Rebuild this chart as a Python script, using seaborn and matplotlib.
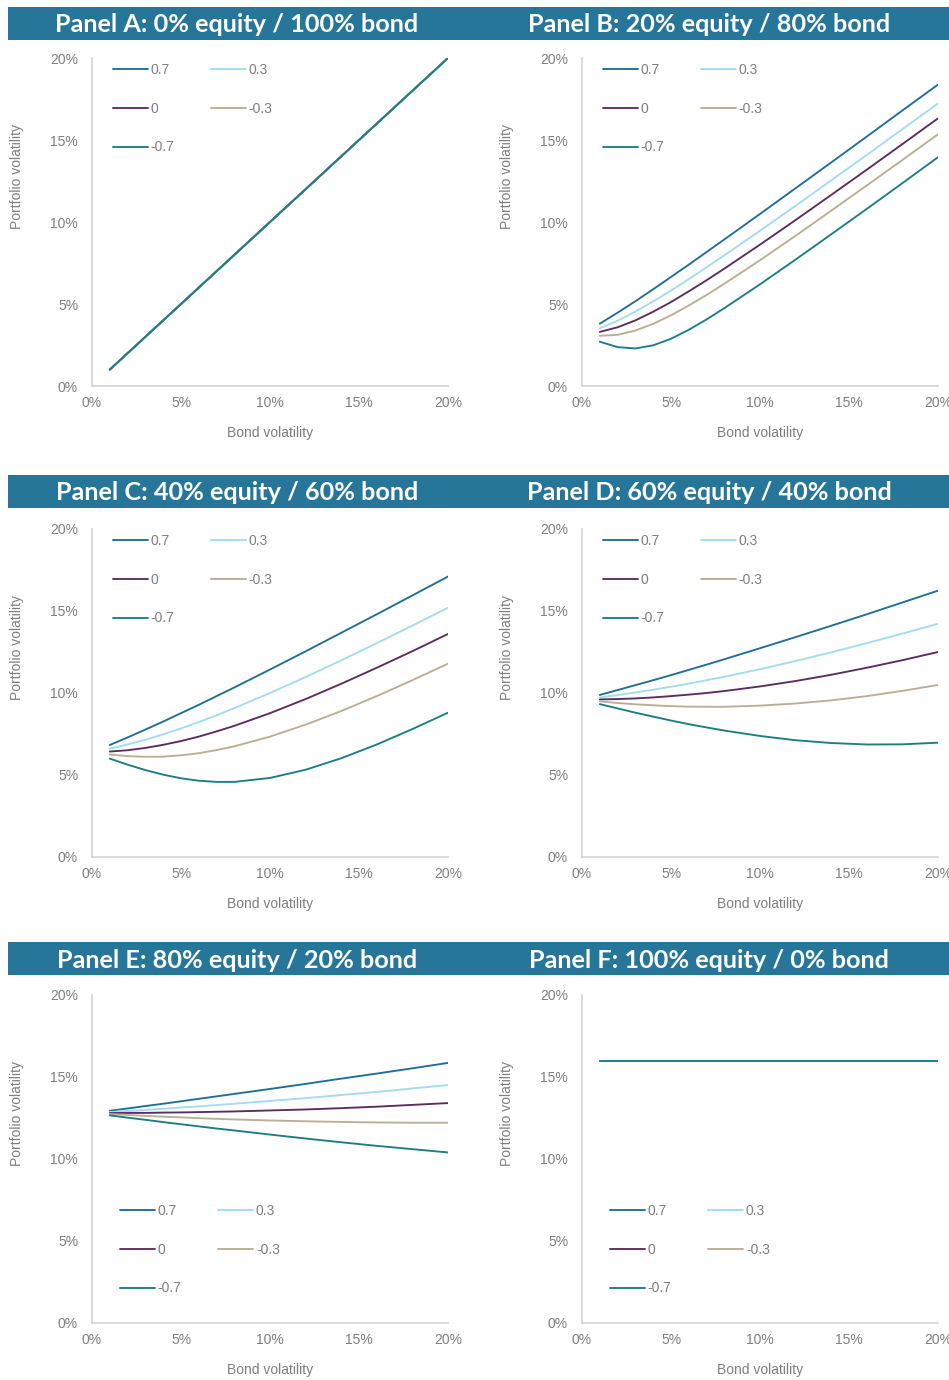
import matplotlib
matplotlib.use("Agg")
import matplotlib.pyplot as plt
from matplotlib.patches import Rectangle
from matplotlib.ticker import FuncFormatter, MultipleLocator
import seaborn as sns
import pandas as pd

# ---------------- data ----------------
bond_vol = [1, 2, 3, 4, 5, 6, 7, 8, 10, 12, 14, 16, 18, 20]
correlations = ["0.7", "0.3", "0", "-0.3", "-0.7"]

panel_titles = [
    "Panel A: 0% equity / 100% bond",
    "Panel B: 20% equity / 80% bond",
    "Panel C: 40% equity / 60% bond",
    "Panel D: 60% equity / 40% bond",
    "Panel E: 80% equity / 20% bond",
    "Panel F: 100% equity / 0% bond",
]

# Panel A: all correlations coincide
a_vol = [1, 2, 3, 4, 5, 6, 7, 8, 10, 12, 14, 16, 18, 20]

b_p07 = [3.80, 4.47, 5.17, 5.90, 6.65, 7.40, 8.17, 8.94, 10.49, 12.06, 13.63, 15.21, 16.80, 18.38]
b_p03 = [3.52, 3.98, 4.54, 5.16, 5.82, 6.52, 7.24, 7.97, 9.47, 10.99, 12.54, 14.09, 15.66, 17.23]
b_p00 = [3.30, 3.58, 4.00, 4.53, 5.12, 5.77, 6.45, 7.16, 8.62, 10.12, 11.65, 13.19, 14.75, 16.32]
b_m03 = [3.06, 3.12, 3.38, 3.79, 4.31, 4.91, 5.55, 6.24, 7.67, 9.16, 10.69, 12.23, 13.78, 15.35]
b_m07 = [2.70, 2.37, 2.29, 2.48, 2.88, 3.43, 4.06, 4.75, 6.20, 7.71, 9.25, 10.80, 12.37, 13.95]

c_p07 = [6.83, 7.29, 7.77, 8.26, 8.77, 9.28, 9.81, 10.34, 11.43, 12.54, 13.67, 14.80, 15.95, 17.10]
c_p03 = [6.60, 6.86, 7.15, 7.48, 7.84, 8.23, 8.64, 9.08, 10.00, 10.97, 11.99, 13.04, 14.11, 15.20]
c_p00 = [6.43, 6.51, 6.65, 6.84, 7.07, 7.34, 7.66, 8.00, 8.77, 9.63, 10.56, 11.54, 12.55, 13.60]
c_m03 = [6.25, 6.15, 6.11, 6.12, 6.20, 6.33, 6.52, 6.75, 7.34, 8.07, 8.90, 9.81, 10.78, 11.79]
c_m07 = [6.00, 5.63, 5.30, 5.02, 4.80, 4.65, 4.58, 4.58, 4.82, 5.32, 6.02, 6.86, 7.80, 8.80]

d_p07 = [9.88, 10.18, 10.48, 10.78, 11.09, 11.41, 11.73, 12.06, 12.73, 13.41, 14.10, 14.80, 15.52, 16.24]
d_p03 = [9.73, 9.87, 10.03, 10.20, 10.38, 10.57, 10.78, 10.99, 11.45, 11.95, 12.48, 13.04, 13.62, 14.22]
d_p00 = [9.61, 9.63, 9.67, 9.73, 9.81, 9.90, 10.00, 10.12, 10.40, 10.73, 11.11, 11.54, 12.00, 12.50]
d_m03 = [9.49, 9.39, 9.31, 9.25, 9.20, 9.17, 9.16, 9.16, 9.23, 9.36, 9.55, 9.81, 10.13, 10.49]
d_m07 = [9.32, 9.06, 8.80, 8.56, 8.32, 8.10, 7.90, 7.71, 7.38, 7.12, 6.95, 6.86, 6.87, 6.97]

e_p07 = [12.94, 13.08, 13.23, 13.37, 13.52, 13.67, 13.82, 13.97, 14.27, 14.58, 14.90, 15.21, 15.53, 15.86]
e_p03 = [12.86, 12.93, 12.99, 13.06, 13.14, 13.21, 13.29, 13.37, 13.54, 13.71, 13.90, 14.09, 14.30, 14.51]
e_p00 = [12.80, 12.81, 12.81, 12.83, 12.84, 12.86, 12.88, 12.90, 12.96, 13.02, 13.10, 13.19, 13.30, 13.41]
e_m03 = [12.74, 12.69, 12.63, 12.58, 12.54, 12.49, 12.45, 12.41, 12.35, 12.30, 12.26, 12.23, 12.21, 12.21]
e_m07 = [12.66, 12.52, 12.39, 12.25, 12.12, 11.99, 11.86, 11.74, 11.49, 11.25, 11.02, 10.80, 10.60, 10.40]

# Panel F: all correlations coincide (equity volatility)
f_vol = [16, 16, 16, 16, 16, 16, 16, 16, 16, 16, 16, 16, 16, 16]

panel_series = [
    [a_vol, a_vol, a_vol, a_vol, a_vol],
    [b_p07, b_p03, b_p00, b_m03, b_m07],
    [c_p07, c_p03, c_p00, c_m03, c_m07],
    [d_p07, d_p03, d_p00, d_m03, d_m07],
    [e_p07, e_p03, e_p00, e_m03, e_m07],
    [f_vol, f_vol, f_vol, f_vol, f_vol],
]

colors = {
    "0.7": "#1f6e96",
    "0.3": "#a3dbef",
    "0": "#5c2c5e",
    "-0.3": "#b8af94",
    "-0.7": "#1a7e84",
}

# ---------------- styling ----------------
sns.set_theme(style="white")
plt.rcParams["font.family"] = ["Liberation Sans", "DejaVu Sans"]

W, H = 949, 1380
fig = plt.figure(figsize=(W / 100, H / 100), dpi=100)

GRAY = "#7f7f7f"
SPINE = "#d4d4d4"
BANNER = "#26769a"
LW = 1.35

col_x0 = [92, 582]
row_zero = [386, 857, 1323]
row_banner = [(7, 40), (475, 508), (942, 975)]
ax_w, ax_h = 356, 328

for i, title in enumerate(panel_titles):
    r, c = divmod(i, 2)
    x0 = col_x0[c]
    y0 = row_zero[r]
    ax = fig.add_axes([x0 / W, (H - y0) / H, ax_w / W, ax_h / H])

    rows = []
    for corr, vals in zip(correlations, panel_series[i]):
        for xv, yv in zip(bond_vol, vals):
            rows.append({"bond": xv, "port": yv, "corr": corr})
    df = pd.DataFrame(rows)
    sns.lineplot(data=df, x="bond", y="port", hue="corr", hue_order=correlations,
                 palette=colors, estimator=None, sort=False, lw=LW, ax=ax,
                 legend=False)

    ax.set_xlim(0, 20)
    ax.set_ylim(0, 20)
    ax.xaxis.set_major_locator(MultipleLocator(5))
    ax.yaxis.set_major_locator(MultipleLocator(5))
    pct = FuncFormatter(lambda v, p: f"{v:.0f}%")
    ax.xaxis.set_major_formatter(pct)
    ax.yaxis.set_major_formatter(pct)
    ax.tick_params(axis="both", length=0, labelsize=10, labelcolor=GRAY)
    ax.tick_params(axis="x", pad=7)
    ax.tick_params(axis="y", pad=10)
    for s in ["top", "right"]:
        ax.spines[s].set_visible(False)
    for s in ["left", "bottom"]:
        ax.spines[s].set_color(SPINE)
        ax.spines[s].set_linewidth(1.2)
    ax.grid(False)

    ax.set_xlabel("Bond volatility", fontsize=10, color=GRAY)
    ax.set_ylabel("Portfolio volatility", fontsize=10, color=GRAY)
    ax.xaxis.set_label_coords(0.5, -0.143)
    ax.xaxis.label.set_va("center")
    ax.yaxis.set_label_coords(-0.21, 0.64)
    ax.yaxis.label.set_va("center")

    # legend (row-major look with 2 columns)
    handles = [plt.Line2D([], [], color=colors[corr], lw=LW) for corr in correlations]
    order = [0, 2, 4, 1, 3]
    if r < 2:
        anchor = (0.059, 0.984)
    else:
        anchor = (0.079, 0.362)
    ax.legend([handles[k] for k in order], [correlations[k] for k in order],
              ncol=2, loc="upper left", bbox_to_anchor=anchor, frameon=False,
              borderaxespad=0, borderpad=0, handlelength=2.5, handletextpad=0.2,
              columnspacing=2.66, labelspacing=1.77, fontsize=10,
              labelcolor=GRAY)

# banners
for (yt, yb) in row_banner:
    fig.patches.append(Rectangle((8 / W, (H - yb) / H), (W - 8) / W, (yb - yt) / H,
                                 transform=fig.transFigure, facecolor=BANNER,
                                 edgecolor="none", zorder=0))
centers = [237, 709]
for i, title in enumerate(panel_titles):
    r, c = divmod(i, 2)
    yt, yb = row_banner[r]
    fig.text(centers[c] / W, (H - (yt + yb) / 2 - 1.5) / H, title, color="white",
             fontsize=18.2, fontweight="bold", family=["Lato", "DejaVu Sans"],
             ha="center", va="center")

fig.savefig("out.png", dpi=100)
